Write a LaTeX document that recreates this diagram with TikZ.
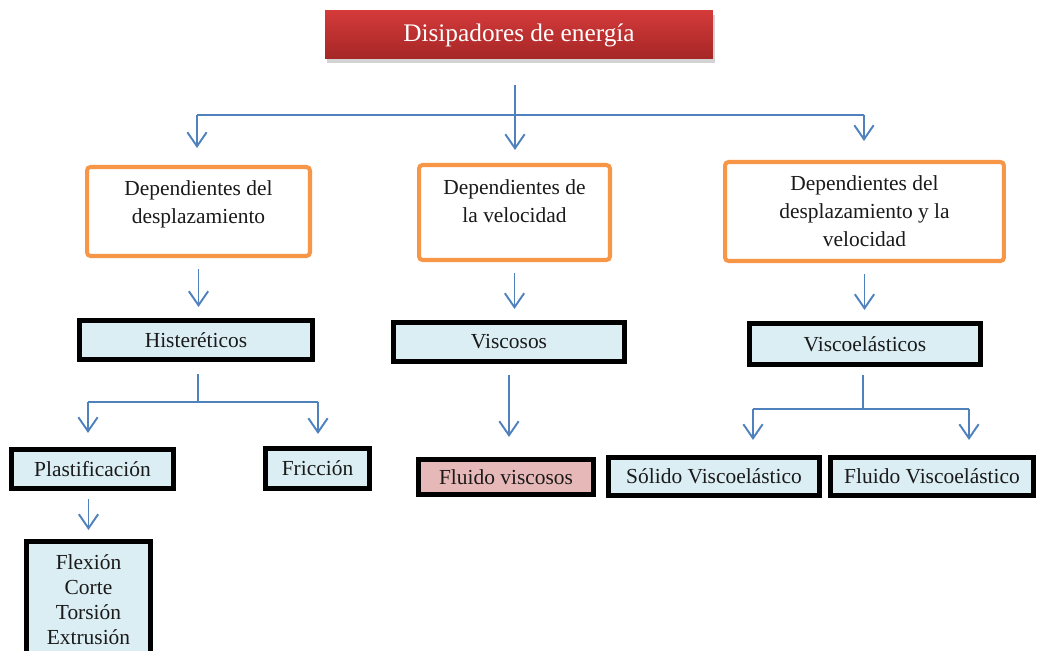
\documentclass[tikz,border=0pt]{standalone}
\usepackage{fontspec}
\setmainfont{Liberation Serif}
\usetikzlibrary{arrows.meta}
\usetikzlibrary{shadows}

\definecolor{lineblue}{HTML}{4F81BD}
\definecolor{boxorange}{HTML}{F79646}
\definecolor{boxblue}{HTML}{DBEEF4}
\definecolor{boxpink}{HTML}{E6B9B8}
\definecolor{titletop}{HTML}{D43A3A}
\definecolor{titlebot}{HTML}{A52626}
\definecolor{textgray}{HTML}{1A1A1A}

\begin{document}
\begin{tikzpicture}[x=0.02cm, y=-0.02cm,
                every node/.style = {shape=rectangle, inner sep=0pt, align=center,
                    text=textgray, font=\fontsize{12.2}{15.9}\selectfont},
                grupo/.style = {draw=boxorange, line width=2.3pt, rounded corners=2pt, fill=white},
                tipo/.style = {draw=black, line width=2.6pt, fill=boxblue},
                rama/.style = {every edge/.style = {draw=lineblue, line width=1.1pt}},
                conn/.style = {every edge/.style = {draw=lineblue, line width=1.1pt,
                    -{Straight Barb[length=8pt,width=11pt]},
                    shorten <= 0.22cm, shorten >= 0.22cm}}]
            \useasboundingbox (0,0) rectangle (1039,651);

            \node (q_dis) [top color=titletop, bottom color=titlebot,
                drop shadow={shadow xshift=1pt, shadow yshift=-2pt, opacity=0.35},
                text=white, font=\fontsize{14.4}{17}\selectfont,
                minimum width=7.76cm, minimum height=0.96cm] at (519,35) {Disipadores de energía};

            \node (q_dd) [grupo, minimum width=4.46cm, minimum height=1.78cm] at (198.5,211.5) {Dependientes del \\ desplazamiento \\[-5.2pt] \mbox{}};
            \node (q_dv) [grupo, minimum width=3.82cm, minimum height=1.90cm] at (514.5,212.5) {Dependientes de \\ la velocidad \\[-3.4pt] \mbox{}};
            \node (q_ddv) [grupo, minimum width=5.58cm, minimum height=1.98cm] at (864.5,211.5) {Dependientes del \\ desplazamiento y la \\ velocidad};

            \node (q_hist) [tipo, minimum width=4.67cm, minimum height=0.79cm] at (196,340) {Histeréticos};
            \node (q_visc) [tipo, minimum width=4.63cm, minimum height=0.79cm] at (509,342) {Viscosos};
            \node (q_viscoel) [tipo, minimum width=4.63cm, minimum height=0.83cm] at (865,344) {Viscoelásticos};

            \node (q_plast) [tipo, minimum width=3.25cm, minimum height=0.79cm] at (92.5,469) {Plastificación};
            \node (q_fric) [tipo, minimum width=2.09cm, minimum height=0.81cm] at (317.5,468.5) {Fricción};
            \node (q_flex) [tipo, minimum width=2.49cm, minimum height=2.35cm,
                font=\fontsize{12.2}{14.2}\selectfont] at (88.5,600) {Flexión \\ Corte \\ Torsión \\ Extrusión};

            \node (q_fv) [tipo, fill=boxpink, minimum width=3.51cm, minimum height=0.71cm] at (506,477) {Fluido viscosos};
            \node (q_sv) [tipo, minimum width=4.23cm, minimum height=0.77cm] at (714,476.5) {Sólido Viscoelástico};
            \node (q_fve) [tipo, minimum width=4.07cm, minimum height=0.77cm] at (932,476.5) {Fluido Viscoelástico};

            \coordinate (q_bus) at (515,115);
            \coordinate (q_busl) at (197,115);
            \coordinate (q_busr) at (864,115);
            \coordinate (q_hsplit) at (198,402);
            \coordinate (q_hl) at (88,402);
            \coordinate (q_hr) at (318,402);
            \coordinate (q_vsplit) at (863,409);
            \coordinate (q_vl) at (753,409);
            \coordinate (q_vr) at (969,409);

            \path[rama]
            (q_dis.south -| q_bus)        edge[shorten <=0.52cm] (q_bus)
            (q_busl)                      edge (q_busr)
            (q_hist.south -| q_hsplit)    edge[shorten <=0.24cm] (q_hsplit)
            (q_hl)                        edge (q_hr)
            (q_viscoel.south -| q_vsplit) edge[shorten <=0.16cm] (q_vsplit)
            (q_vl)                        edge (q_vr);

            \path[conn]
            (q_busl)                  edge[shorten <=0pt, shorten >=0.34cm] (q_busl |- q_dd.north)
            (q_bus)                   edge[shorten <=0pt, shorten >=0.26cm] (q_bus |- q_dv.north)
            (q_busr)                  edge[shorten <=0pt, shorten >=0.38cm] (q_busr |- q_ddv.north)
            (q_dd.south)              edge (q_dd.south |- q_hist.north)
            (q_dv.south)              edge (q_dv.south |- q_visc.north)
            (q_ddv.south)             edge (q_ddv.south |- q_viscoel.north)
            (q_hl)                    edge[shorten <=0pt, shorten >=0.28cm] (q_hl |- q_plast.north)
            (q_hr)                    edge[shorten <=0pt, shorten >=0.24cm] (q_hr |- q_fric.north)
            (q_plast.south -| q_flex) edge[shorten <=0.16cm, shorten >=0.18cm] (q_flex.north)
            (q_visc.south)            edge[shorten >=0.4cm] (q_visc.south |- q_fv.north)
            (q_vl)                    edge[shorten <=0pt, shorten >=0.3cm] (q_vl |- q_sv.north)
            (q_vr)                    edge[shorten <=0pt, shorten >=0.3cm] (q_vr |- q_fve.north);
        \end{tikzpicture}
\end{document}
